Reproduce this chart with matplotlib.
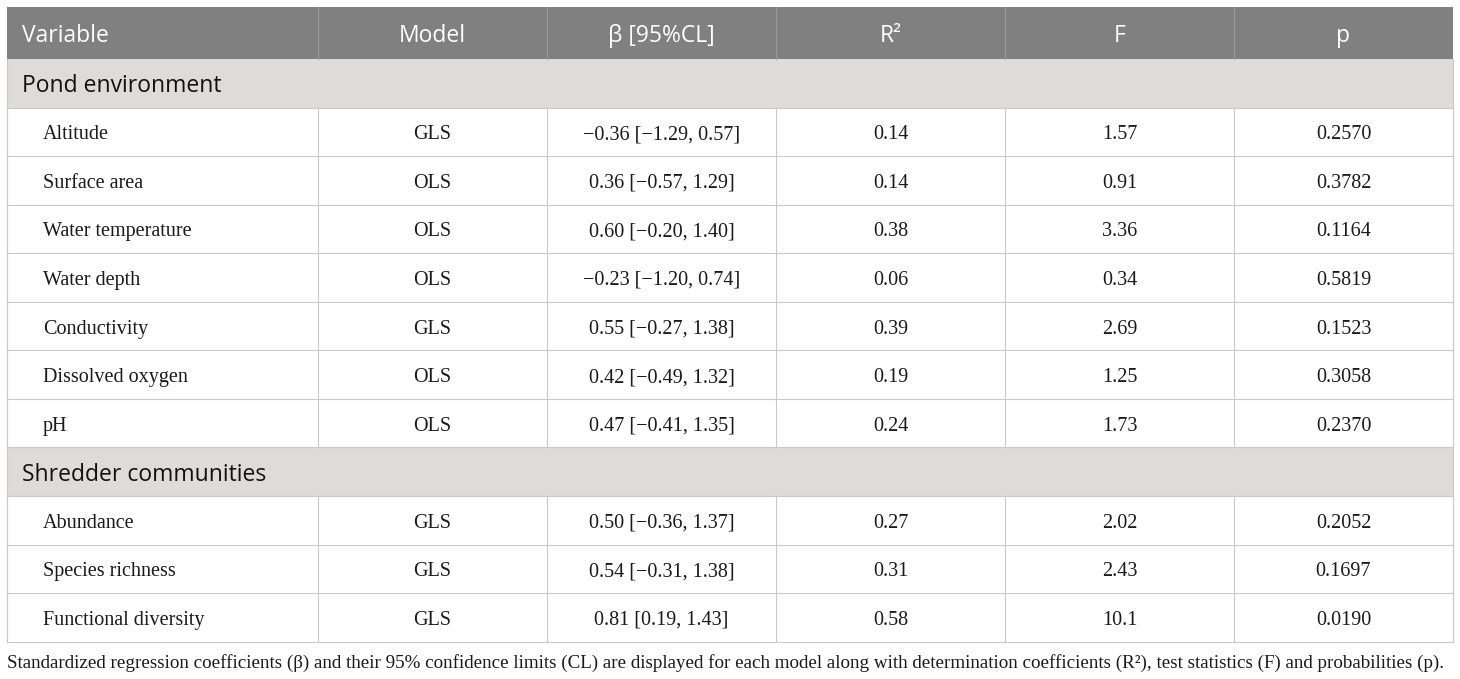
import matplotlib.pyplot as plt
from matplotlib.patches import Rectangle

# table content
headers = ["Variable", "Model", "β [95%CL]", "R²", "F", "p"]
sections = ["Pond environment", "Shredder communities"]

env_vars = ["Altitude", "Surface area", "Water temperature", "Water depth",
            "Conductivity", "Dissolved oxygen", "pH"]
env_models = ["GLS", "OLS", "OLS", "OLS", "GLS", "OLS", "OLS"]
env_beta = ["−0.36 [−1.29, 0.57]", "0.36 [−0.57, 1.29]", "0.60 [−0.20, 1.40]",
            "−0.23 [−1.20, 0.74]", "0.55 [−0.27, 1.38]", "0.42 [−0.49, 1.32]",
            "0.47 [−0.41, 1.35]"]
env_r2 = ["0.14", "0.14", "0.38", "0.06", "0.39", "0.19", "0.24"]
env_f = ["1.57", "0.91", "3.36", "0.34", "2.69", "1.25", "1.73"]
env_p = ["0.2570", "0.3782", "0.1164", "0.5819", "0.1523", "0.3058", "0.2370"]

shr_vars = ["Abundance", "Species richness", "Functional diversity"]
shr_models = ["GLS", "GLS", "GLS"]
shr_beta = ["0.50 [−0.36, 1.37]", "0.54 [−0.31, 1.38]", "0.81 [0.19, 1.43]"]
shr_r2 = ["0.27", "0.31", "0.58"]
shr_f = ["2.02", "2.43", "10.1"]
shr_p = ["0.2052", "0.1697", "0.0190"]

caption = ("Standardized regression coefficients (β) and their 95% confidence limits (CL) "
           "are displayed for each model along with determination coefficients (R²), "
           "test statistics (F) and probabilities (p).")

# layout in pixels
W, H = 1460, 679
col_edges = [7, 318, 547, 776, 1005, 1234, 1453]
header_top, header_h = 7, 52
row_h = 48.55
dy = 3  # nudge text down to match reference baseline
line_c = "#c9c9c9"
sans = "Open Sans"
serif = "Liberation Serif"

fig = plt.figure(figsize=(W / 100, H / 100), dpi=100)
ax = fig.add_axes([0, 0, 1, 1])
ax.set_xlim(0, W)
ax.set_ylim(H, 0)
ax.axis("off")

left, right = col_edges[0], col_edges[-1]

# header
ax.add_patch(Rectangle((left, header_top), right - left, header_h,
                       facecolor="#808080", edgecolor="none"))
for x in col_edges[1:-1]:
    ax.plot([x, x], [header_top, header_top + header_h], color="#9a9a9a", lw=0.8)
hy = header_top + header_h / 2 + dy
for i, h in enumerate(headers):
    if i == 0:
        ax.text(22, hy, h, ha="left", va="center", color="white",
                fontsize=16.5, family=sans)
    else:
        cx = (col_edges[i] + col_edges[i + 1]) / 2
        ax.text(cx, hy, h, ha="center", va="center", color="white",
                fontsize=16.5, family=sans)

groups = [
    (sections[0], env_vars, env_models, env_beta, env_r2, env_f, env_p),
    (sections[1], shr_vars, shr_models, shr_beta, shr_r2, shr_f, shr_p),
]

y = header_top + header_h
for sec, *cols in groups:
    ax.add_patch(Rectangle((left, y), right - left, row_h,
                           facecolor="#dddcda", edgecolor="none"))
    ax.text(22, y + row_h / 2 + dy, sec, ha="left", va="center", color="#111111",
            fontsize=16.5, family=sans)
    ax.plot([left, right], [y + row_h, y + row_h], color=line_c, lw=0.8)
    y += row_h
    for r in range(len(cols[0])):
        cy = y + row_h / 2 + dy
        for c, col in enumerate(cols):
            if c == 0:
                ax.text(43, cy, col[r], ha="left", va="center", color="#1a1a1a",
                        fontsize=14.5, family=serif)
            else:
                cx = (col_edges[c] + col_edges[c + 1]) / 2
                ax.text(cx, cy, col[r], ha="center", va="center", color="#1a1a1a",
                        fontsize=14.5, family=serif)
        for x in col_edges:
            ax.plot([x, x], [y, y + row_h], color=line_c, lw=0.8)
        ax.plot([left, right], [y + row_h, y + row_h], color=line_c, lw=0.8)
        y += row_h

# side borders of section rows
for x in (left, right):
    ax.plot([x, x], [header_top + header_h, y], color=line_c, lw=0.8)

ax.text(left, 663, caption, ha="left", va="center", color="#1a1a1a",
        fontsize=13.7, family=serif)

fig.savefig("out.png", dpi=100)
